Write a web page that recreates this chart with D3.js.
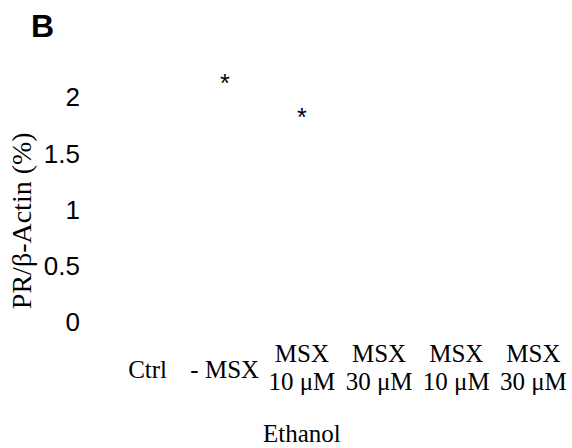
<!DOCTYPE html>
<html>
<head>
<meta charset="utf-8">
<script src="https://cdn.jsdelivr.net/npm/d3@7"></script>
<style>
  html, body { margin: 0; padding: 0; background: #fff; }
  svg { display: block; }
</style>
</head>
<body>
<svg id="chart" width="572" height="448"></svg>
<script>
// ---- data ----
const categories = ["Ctrl", "- MSX", "MSX 10 μM", "MSX 30 μM", "MSX 10 μM b", "MSX 30 μM b"];
const labelLines = [["Ctrl"], ["- MSX"], ["MSX", "10 μM"], ["MSX", "30 μM"], ["MSX", "10 μM"], ["MSX", "30 μM"]];
const yTicks = [0, 0.5, 1, 1.5, 2];
const yTickLabels = ["0", "0.5", "1", "1.5", "2"];
const sigCategories = ["- MSX", "MSX 10 μM"];
const sigValues = [2.17, 1.87];
const groupLabel = "Ethanol";
const yTitle = "PR/β-Actin (%)";
const panelLetter = "B";

// ---- drawing ----
const svg = d3.select("#chart");
const y = d3.scaleLinear().domain([0, 2]).range([322, 97]);
const x = d3.scaleBand().domain(categories).range([109, 572]).padding(0);
const serif = "Liberation Serif, Times New Roman, serif";
const sans = "Liberation Sans, Arial, sans-serif";

// y tick labels (no axis line visible)
svg.append("g").selectAll("text").data(yTicks).join("text")
  .attr("x", 80).attr("y", d => y(d)).attr("dy", "0.36em")
  .attr("text-anchor", "end")
  .attr("font-family", sans)
  .attr("font-size", 26).attr("fill", "#000")
  .text((d, i) => yTickLabels[i]);

// y title
svg.append("text")
  .attr("transform", `translate(31, ${y(0.9)}) rotate(-90)`)
  .attr("text-anchor", "middle")
  .attr("font-family", serif)
  .attr("font-size", 28).attr("fill", "#000")
  .text(yTitle);

// category labels
const cat = svg.append("g").selectAll("text").data(categories).join("text")
  .attr("text-anchor", "middle")
  .attr("font-family", serif)
  .attr("font-size", 25).attr("fill", "#000")
  .attr("x", d => x(d) + x.bandwidth() / 2)
  .attr("y", (d, i) => labelLines[i].length === 1 ? 378 : 362);
cat.each(function(d, i) {
  const t = d3.select(this);
  labelLines[i].forEach((ln, j) => {
    t.append("tspan").attr("x", x(d) + x.bandwidth() / 2).attr("dy", j === 0 ? 0 : 28).text(ln);
  });
});

// group label
svg.append("text")
  .attr("x", x(categories[2]) + x.bandwidth() / 2).attr("y", 442)
  .attr("text-anchor", "middle")
  .attr("font-family", serif)
  .attr("font-size", 25).attr("fill", "#000")
  .text(groupLabel);

// significance asterisks
svg.append("g").selectAll("text").data(sigCategories).join("text")
  .attr("x", d => x(d) + x.bandwidth() / 2)
  .attr("y", (d, i) => y(sigValues[i]))
  .attr("dy", "0.57em")
  .attr("text-anchor", "middle")
  .attr("font-family", sans)
  .attr("font-size", 25).attr("fill", "#000")
  .text("*");

// panel letter
svg.append("text")
  .attr("x", 31).attr("y", 37)
  .attr("font-family", sans)
  .attr("font-weight", "bold")
  .attr("font-size", 32).attr("fill", "#000")
  .text(panelLetter);
</script>
</body>
</html>
